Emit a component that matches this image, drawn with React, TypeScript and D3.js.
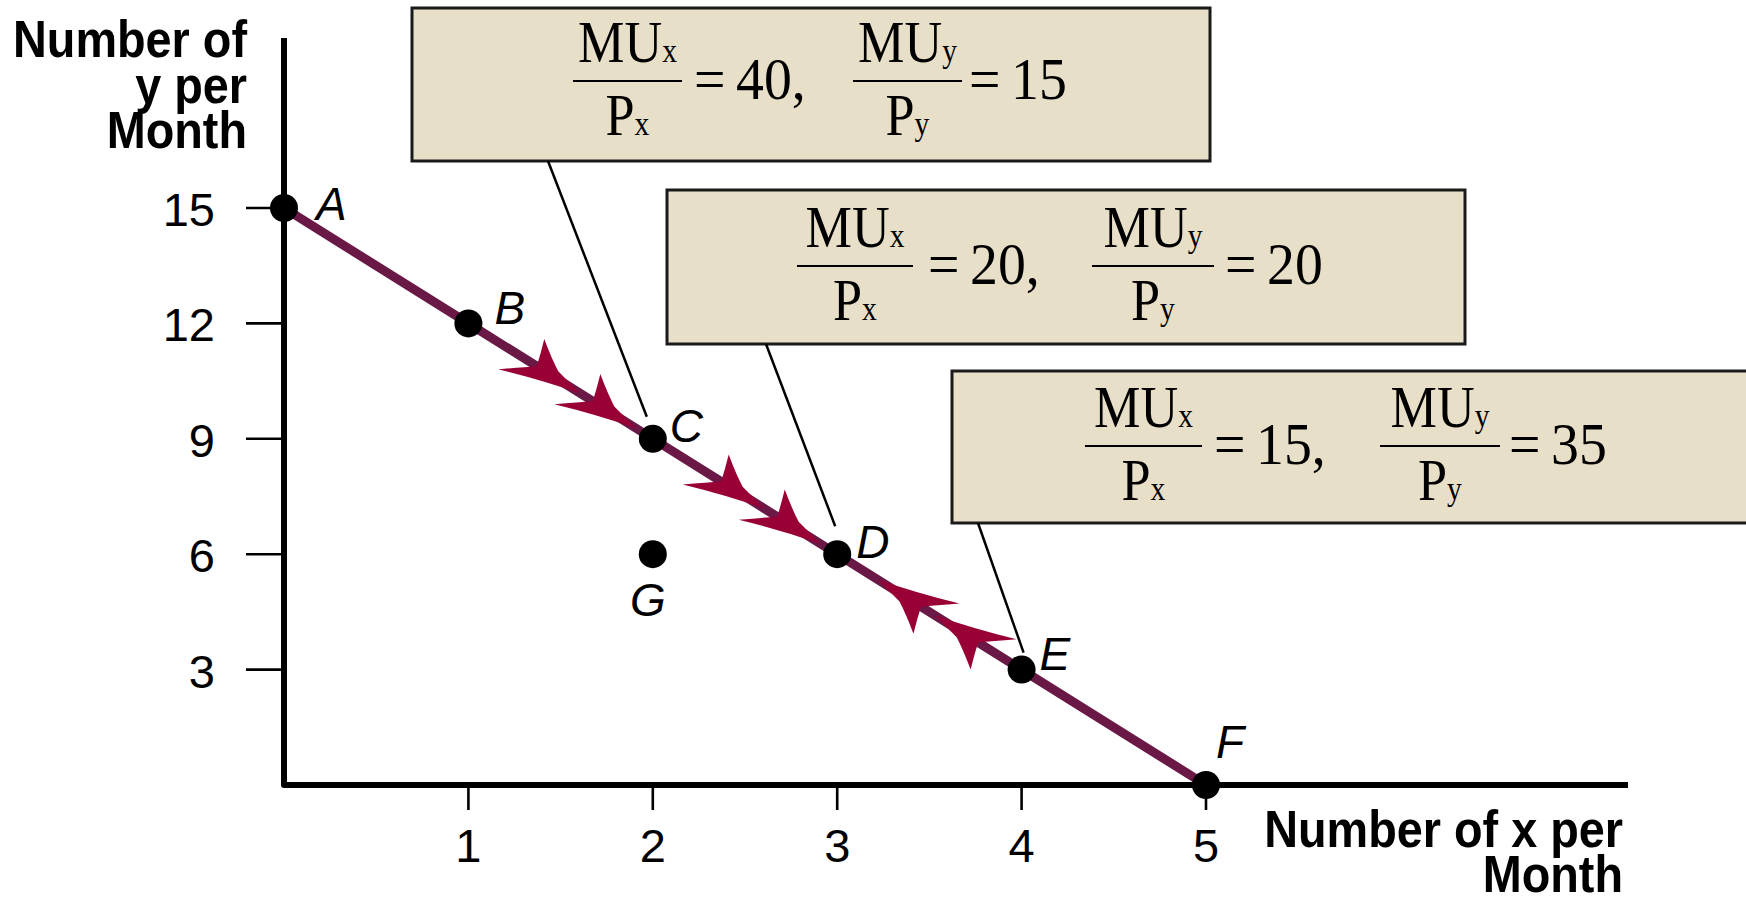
import React from 'react';
import * as d3 from 'd3';

// ---------- data ----------
const X_TICKS = [1, 2, 3, 4, 5];
const Y_TICKS = [3, 6, 9, 12, 15];
const POINT_NAMES = ['A', 'B', 'C', 'D', 'E', 'F', 'G'];
const POINT_X = [0, 1, 2, 3, 4, 5, 2];
const POINT_Y = [15, 12, 9, 6, 3, 0, 6];
const BUDGET_NAMES = ['A', 'B', 'C', 'D', 'E', 'F'];
const ARROW_X = [1.605, 1.909, 2.605, 2.909, 3.22, 3.53];
const ARROW_Y = [10.185, 9.273, 7.185, 6.273, 5.34, 4.41];
const ARROW_TOWARD = ['C', 'C', 'D', 'D', 'D', 'D'];
const MUX_OVER_PX = ['40', '20', '15'];
const MUY_OVER_PY = ['15', '20', '35'];
const BOX_POINTS = ['C', 'D', 'E'];
const Y_TITLE = ['Number of', 'y per', 'Month'];
const X_TITLE = ['Number of x per', 'Month'];

// ---------- layout (pixels) ----------
const W = 1746;
const H = 898;
const X0 = 284, X5 = 1206, Y0 = 785, Y15 = 208;
const LABEL_OFF: Record<string, [number, number, string]> = {
  A: [32, 12, 'start'], B: [26, 1, 'start'], C: [17, 3, 'start'], D: [19, 4, 'start'],
  E: [18, 0, 'start'], F: [10, -27, 'start'], G: [-5, 62, 'middle'],
};
const BOXES = [
  { x: 412, y: 8, w: 798, h: 153, bar: 81, f1: [573, 682], eq1: 694, f2: [853, 962], eq2: 969, lx: 548, end: [-6, -22] },
  { x: 667, y: 190, w: 798, h: 154, bar: 266, f1: [797, 913], eq1: 928, f2: [1092, 1214], eq2: 1225, lx: 766, end: [-2, -28] },
  { x: 952, y: 371, w: 900, h: 152, bar: 446, f1: [1085, 1202], eq1: 1214, f2: [1380, 1500], eq2: 1509, lx: 978, end: [2, -17] },
];
const SANS = "'Liberation Sans', Arial, Helvetica, sans-serif";
const SERIF = "'Liberation Serif', 'Times New Roman', Times, serif";
const LINE_COLOR = '#6a1846';
const ARROW_COLOR = '#990036';
const BOX_FILL = '#e8dfc9';
const SERIF_SIZE = 60;
const SERIF_SX = 0.87;
const VALUE_SX = 0.93;

const ARROW_PATH = 'M0,0 Q-40,9 -82,23 Q-62,8 -51,0 Q-54,-12 -59,-27 Q-42,-14 -30,-7 Z';

function SText({ x, y, anchor, children, size = SERIF_SIZE, sx = SERIF_SX }: any) {
  return (
    <text
      transform={`translate(${x},${y}) scale(${sx},1)`}
      fontSize={size}
      fontFamily={SERIF}
      textAnchor={anchor || 'start'}
      fill="#000"
    >
      {children}
    </text>
  );
}

function Fraction({ cx0, cx1, bar, sub }: { cx0: number; cx1: number; bar: number; sub: string }) {
  const cx = (cx0 + cx1) / 2;
  return (
    <g>
      <SText x={cx} y={bar - 19} anchor="middle">
        MU<tspan fontSize={34}>{sub}</tspan>
      </SText>
      <line x1={cx0} x2={cx1} y1={bar} y2={bar} stroke="#000" strokeWidth={2.2} />
      <SText x={cx} y={bar + 54} anchor="middle">
        P<tspan fontSize={34}>{sub}</tspan>
      </SText>
    </g>
  );
}

function BoldLabel({ x, y, text }: { x: number; y: number; text: string }) {
  return (
    <text
      transform={`translate(${x},${y}) scale(0.9,1)`}
      fontSize={52}
      fontWeight="bold"
      fontFamily={SANS}
      textAnchor="end"
    >
      {text}
    </text>
  );
}

export default function App() {
  const x = d3.scaleLinear().domain([0, 5]).range([X0, X5]);
  const y = d3.scaleLinear().domain([0, 15]).range([Y0, Y15]);

  const pts = POINT_NAMES.map((n, i) => ({ n, x: POINT_X[i], y: POINT_Y[i] }));
  const byName: Record<string, { n: string; x: number; y: number }> = {};
  pts.forEach((p) => (byName[p.n] = p));
  const budget = BUDGET_NAMES.map((n) => byName[n]);
  const lineGen = d3.line<{ x: number; y: number }>().x((d) => x(d.x)).y((d) => y(d.y));

  const arrows = ARROW_X.map((ax, i) => {
    const target = byName[ARROW_TOWARD[i]];
    const px = x(ax), py = y(ARROW_Y[i]);
    const ang = (Math.atan2(y(target.y) - py, x(target.x) - px) * 180) / Math.PI;
    return { px, py, ang };
  });

  return (
    <svg width={W} height={H} style={{ position: 'absolute', left: 0, top: 0, display: 'block', background: '#fff' }}>
      {/* boxes */}
      {BOXES.map((b, i) => (
        <g key={'box' + i}>
          <rect x={b.x} y={b.y} width={b.w} height={b.h} fill={BOX_FILL} stroke="#1a1a1a" strokeWidth={3} />
          <Fraction cx0={b.f1[0]} cx1={b.f1[1]} bar={b.bar} sub="x" />
          <SText x={b.eq1} y={b.bar + 18} sx={VALUE_SX}>=</SText>
          <SText x={b.eq1 + 42} y={b.bar + 18} sx={VALUE_SX}>{MUX_OVER_PX[i] + ','}</SText>
          <Fraction cx0={b.f2[0]} cx1={b.f2[1]} bar={b.bar} sub="y" />
          <SText x={b.eq2} y={b.bar + 18} sx={VALUE_SX}>=</SText>
          <SText x={b.eq2 + 42} y={b.bar + 18} sx={VALUE_SX}>{MUY_OVER_PY[i]}</SText>
          <line
            x1={b.lx}
            y1={b.y + b.h}
            x2={x(byName[BOX_POINTS[i]].x) + b.end[0]}
            y2={y(byName[BOX_POINTS[i]].y) + b.end[1]}
            stroke="#000"
            strokeWidth={2.5}
          />
        </g>
      ))}

      {/* axes */}
      <path d={`M${x(0)},38 L${x(0)},${y(0)} L1628,${y(0)}`} fill="none" stroke="#000" strokeWidth={6} strokeLinejoin="round" />
      {Y_TICKS.map((t) => (
        <g key={'yt' + t}>
          <line x1={x(0) - 38} x2={x(0)} y1={y(t)} y2={y(t)} stroke="#000" strokeWidth={2.6} />
          <text x={215} y={y(t) + 18} fontSize={47} fontFamily={SANS} textAnchor="end">{t}</text>
        </g>
      ))}
      {X_TICKS.map((t) => (
        <g key={'xt' + t}>
          <line x1={x(t)} x2={x(t)} y1={y(0)} y2={y(0) + 25} stroke="#000" strokeWidth={2.6} />
          <text x={x(t)} y={862} fontSize={47} fontFamily={SANS} textAnchor="middle">{t}</text>
        </g>
      ))}
      {Y_TITLE.map((s, i) => (
        <BoldLabel key={'ytl' + i} x={247} y={57 + i * 45.5} text={s} />
      ))}
      {X_TITLE.map((s, i) => (
        <BoldLabel key={'xtl' + i} x={1623} y={847 + i * 45} text={s} />
      ))}

      {/* budget line */}
      <path d={lineGen(budget) || ''} fill="none" stroke={LINE_COLOR} strokeWidth={9} />

      {/* arrows */}
      {arrows.map((a, i) => (
        <path key={'ar' + i} d={ARROW_PATH} fill={ARROW_COLOR} transform={`translate(${a.px},${a.py}) rotate(${a.ang})`} />
      ))}

      {/* points */}
      {pts.map((p) => (
        <g key={'pt' + p.n}>
          <circle cx={x(p.x)} cy={y(p.y)} r={14} fill="#000" />
          <text
            x={x(p.x) + LABEL_OFF[p.n][0]}
            y={y(p.y) + LABEL_OFF[p.n][1]}
            fontSize={46}
            fontStyle="italic"
            fontFamily={SANS}
            textAnchor={LABEL_OFF[p.n][2]}
          >
            {p.n}
          </text>
        </g>
      ))}
    </svg>
  );
}
